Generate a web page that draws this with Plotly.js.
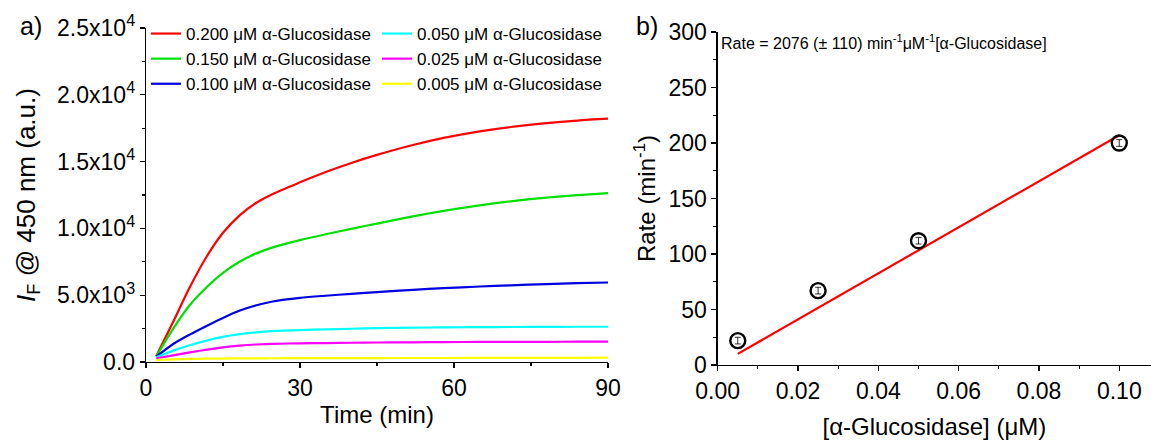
<!DOCTYPE html>
<html>
<head>
<meta charset="utf-8">
<script src="https://cdn.plot.ly/plotly-3.0.1.min.js"></script>
<style>html,body{margin:0;padding:0;background:#fff;}#chart{width:1151px;height:440px;}</style>
</head>
<body>
<div id="chart"></div>
<script>
// ---- Panel a) kinetic traces ----
const timeMin = [2, 5.3, 8.5, 11.8, 15, 18.3, 21.5, 24.7, 30, 35, 40, 45, 52, 58, 65, 71, 78, 84, 90];
const red200 = [450, 3010, 5570, 7880, 9670, 10990, 11920, 12580, 13450, 14220, 14900, 15500, 16240, 16770, 17260, 17590, 17880, 18070, 18210];
const green150 = [420, 2500, 4250, 5600, 6680, 7520, 8130, 8580, 9120, 9560, 9970, 10360, 10900, 11310, 11720, 12020, 12300, 12490, 12640];
const blue100 = [400, 1350, 2050, 2700, 3300, 3850, 4250, 4530, 4800, 4960, 5100, 5230, 5400, 5530, 5650, 5740, 5830, 5900, 5950];
const cyan050 = [350, 850, 1250, 1600, 1880, 2080, 2220, 2310, 2390, 2440, 2490, 2530, 2570, 2590, 2610, 2620, 2630, 2640, 2640];
const magenta025 = [280, 500, 720, 920, 1100, 1230, 1310, 1360, 1400, 1420, 1440, 1460, 1475, 1490, 1500, 1510, 1510, 1520, 1520];
const yellow005 = [150, 200, 230, 250, 260, 270, 275, 280, 285, 290, 290, 295, 300, 300, 305, 305, 310, 315, 320];
const seriesNames = ['0.200 μM α-Glucosidase', '0.150 μM α-Glucosidase', '0.100 μM α-Glucosidase',
                     '0.050 μM α-Glucosidase', '0.025 μM α-Glucosidase', '0.005 μM α-Glucosidase'];
const seriesColors = ['#ff0000', '#00e000', '#0000e0', '#00ffff', '#ff00ff', '#ffff00'];

const yTickValsA = [0, 5000, 10000, 15000, 20000, 25000];
const yTickTextA = ['0.0', '5.0x10<sup>3</sup>', '1.0x10<sup>4</sup>', '1.5x10<sup>4</sup>', '2.0x10<sup>4</sup>', '2.5x10<sup>4</sup>'];
const xTickValsA = [0, 30, 60, 90];

// ---- Panel b) rate vs concentration ----
const enzymeConc = [0.005, 0.025, 0.05, 0.1];
const rates = [22, 67, 112, 200];
const rateErr = [3, 3, 3, 3];
const fitX = [0.005, 0.1];
const fitY = [10, 207];
const xTickValsB = [0, 0.02, 0.04, 0.06, 0.08, 0.10];
const xTickTextB = ['0.00', '0.02', '0.04', '0.06', '0.08', '0.10'];

const FONT = 'Liberation Sans, Arial, sans-serif';
const W = 1151, H = 440;
const px = v => v / W;
const py = v => 1 - v / H;

const kinetic = [red200, green150, blue100, cyan050, magenta025, yellow005];
const traces = kinetic.map((ys, i) => ({
  x: timeMin, y: ys, type: 'scatter', mode: 'lines',
  line: {color: seriesColors[i], width: 2.2, shape: 'spline', smoothing: 0.8},
  name: seriesNames[i], xaxis: 'x', yaxis: 'y',
  legend: i < 3 ? 'legend' : 'legend2'
}));

traces.push({
  x: fitX, y: fitY, type: 'scatter', mode: 'lines',
  line: {color: '#ff0000', width: 2.2}, xaxis: 'x2', yaxis: 'y2', showlegend: false
});
traces.push({
  x: enzymeConc, y: rates, type: 'scatter', mode: 'markers',
  marker: {symbol: 'circle-open', size: 15, color: '#000', line: {width: 2.4, color: '#000'}},
  error_y: {type: 'data', array: rateErr, visible: true, color: '#000', thickness: 0.8, width: 3},
  xaxis: 'x2', yaxis: 'y2', showlegend: false
});

const axisBase = {
  showline: true, linecolor: '#000', linewidth: 1.3, mirror: false,
  ticks: 'outside', ticklen: 5, tickwidth: 1.3, tickcolor: '#000',
  showgrid: false, zeroline: false,
  tickfont: {family: FONT, size: 23, color: '#000'}
};
const minorBase = {ticks: 'outside', ticklen: 3, tickcolor: '#000', tickwidth: 1.2, showgrid: false};
const titleFont = {family: FONT, size: 24, color: '#000'};

const layout = {
  width: W, height: H,
  margin: {l: 0, r: 0, t: 0, b: 0},
  paper_bgcolor: '#fff', plot_bgcolor: '#fff',
  font: {family: FONT, color: '#000'},
  xaxis: Object.assign({}, axisBase, {
    domain: [px(146), px(608)], range: [0, 90], anchor: 'y',
    tickvals: xTickValsA,
    minor: Object.assign({dtick: 15}, minorBase),
    title: {text: 'Time (min)', font: titleFont, standoff: 6}
  }),
  yaxis: Object.assign({}, axisBase, {
    domain: [py(362), py(28)], range: [0, 25000], anchor: 'x',
    tickvals: yTickValsA, ticktext: yTickTextA,
    minor: Object.assign({dtick: 2500}, minorBase),
    title: {text: '<i>I</i><sub>F</sub> @ 450 nm (a.u.)', font: {family: FONT, size: 26, color: '#000'}, standoff: 14}
  }),
  xaxis2: Object.assign({}, axisBase, {
    domain: [px(717.7), 1], range: [0, 0.1079], anchor: 'y2',
    tickvals: xTickValsB, ticktext: xTickTextB,
    minor: Object.assign({dtick: 0.01}, minorBase),
    title: {text: '[α-Glucosidase] (μM)', font: titleFont, standoff: 20}
  }),
  yaxis2: Object.assign({}, axisBase, {
    domain: [py(365), py(32)], range: [0, 300], anchor: 'x2',
    dtick: 50, tick0: 0,
    minor: Object.assign({dtick: 25}, minorBase),
    title: {text: 'Rate (min<sup>-1</sup>)', font: titleFont, standoff: 6}
  }),
  showlegend: true,
  legend: {
    x: px(146), y: py(16), xanchor: 'left', yanchor: 'top',
    bgcolor: 'rgba(0,0,0,0)', borderwidth: 0, tracegroupgap: 0,
    font: {family: FONT, size: 17, color: '#000'}, itemwidth: 30
  },
  legend2: {
    x: px(377), y: py(16), xanchor: 'left', yanchor: 'top',
    bgcolor: 'rgba(0,0,0,0)', borderwidth: 0, tracegroupgap: 0,
    font: {family: FONT, size: 17, color: '#000'}, itemwidth: 30
  },
  annotations: [
    {text: 'a)', x: px(18), y: py(26), xref: 'paper', yref: 'paper', xanchor: 'left', yanchor: 'middle',
     showarrow: false, font: {family: FONT, size: 25, color: '#000'}},
    {text: 'b)', x: px(634), y: py(26), xref: 'paper', yref: 'paper', xanchor: 'left', yanchor: 'middle',
     showarrow: false, font: {family: FONT, size: 25, color: '#000'}},
    {text: 'Rate = 2076 (± 110) min<sup>-1</sup>μM<sup>-1</sup>[α-Glucosidase]', x: px(719), y: py(42),
     xref: 'paper', yref: 'paper', xanchor: 'left', yanchor: 'middle',
     showarrow: false, font: {family: FONT, size: 16, color: '#000'}}
  ]
};

Plotly.newPlot('chart', traces, layout, {displayModeBar: false, staticPlot: true});
</script>
</body>
</html>
